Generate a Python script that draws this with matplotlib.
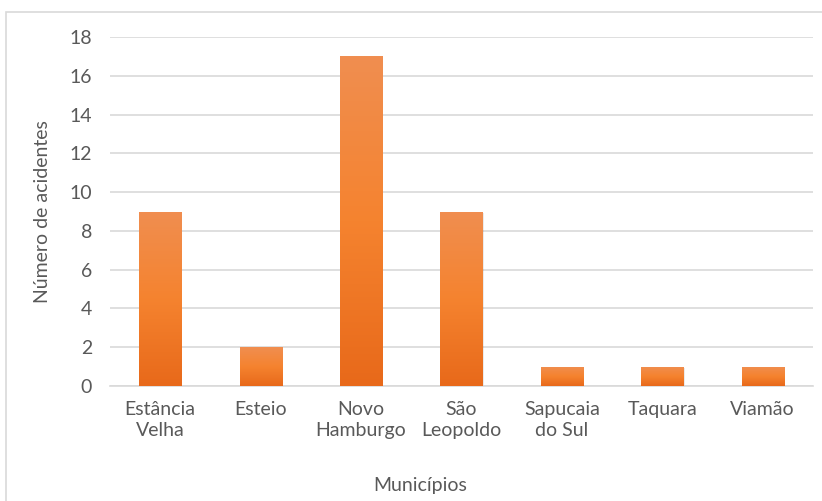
import matplotlib.pyplot as plt
import matplotlib.patches as mpatches
from matplotlib.colors import LinearSegmentedColormap
import numpy as np

municipios = ["Estância\nVelha", "Esteio", "Novo\nHamburgo", "São\nLeopoldo",
              "Sapucaia\ndo Sul", "Taquara", "Viamão"]
acidentes = [9, 2, 17, 9, 1, 1, 1]
yticks = [0, 2, 4, 6, 8, 10, 12, 14, 16, 18]

txt = "#595959"
grid = "#D9D9D9"
fs = 14
plt.rcParams["font.family"] = ["Lato", "DejaVu Sans"]

fig = plt.figure(figsize=(8.22, 5.01), dpi=100)
ax = fig.add_axes([0.1338, 0.2295, 0.989 - 0.1338, 0.926 - 0.2295])

# chart border
fig.patches.append(mpatches.Rectangle((6 / 822, -0.01), 1.0, 1 - 12 / 501 + 0.01,
                                      transform=fig.transFigure, fill=False,
                                      edgecolor=grid, linewidth=1.2))

x = np.arange(len(municipios))
bars = ax.bar(x, acidentes, width=0.42, color="#F07B2B", zorder=3)

# vertical gradient on every bar, light at top, darker at bottom
grad = np.linspace(0, 1, 256).reshape(-1, 1)
cmap = LinearSegmentedColormap.from_list("o", ["#E8691A", "#F5832F", "#F08E50"])
for b in bars:
    x0, w, h = b.get_x(), b.get_width(), b.get_height()
    im = ax.imshow(grad, cmap=cmap, aspect="auto", origin="lower",
                   extent=[x0, x0 + w, 0, h], zorder=4)
    im.set_clip_path(b)
    # soft shadow
    ax.add_patch(mpatches.Rectangle((x0 + 0.012, 0), w, h - 0.05, color="#000000",
                                    alpha=0.08, zorder=2, linewidth=0))

ax.set_xlim(-0.5, len(municipios) - 0.5)
ax.set_ylim(0, 18)
ax.set_yticks(yticks)
ax.set_xticks(x)
ax.set_xticklabels(municipios, fontsize=fs, color=txt, linespacing=1.25)
ax.tick_params(axis="y", labelsize=fs, labelcolor=txt, length=0, pad=13)
ax.tick_params(axis="x", length=0, pad=11)
ax.yaxis.grid(True, color=grid, linewidth=1.2, zorder=0)
for s in ["top", "right", "left"]:
    ax.spines[s].set_visible(False)
ax.spines["bottom"].set_color(grid)
ax.spines["bottom"].set_linewidth(1.2)

ax.set_ylabel("Número de acidentes", fontsize=fs, color=txt)
ax.yaxis.set_label_coords((51 - 110) / (813 - 110), 0.5)
fig.text(420 / 822, 1 - 486 / 501, "Municípios", fontsize=fs, color=txt,
         ha="center", va="center")

fig.savefig("out.png", dpi=100)
